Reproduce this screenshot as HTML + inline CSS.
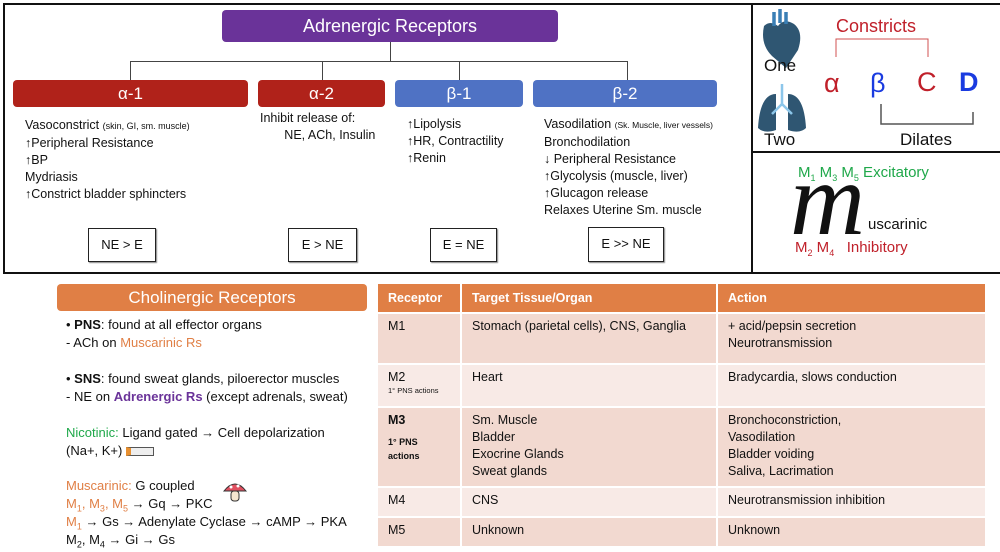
<!DOCTYPE html>
<html><head><meta charset="utf-8"><style>
body{margin:0;width:1000px;height:552px;background:#fff;position:relative;font-family:"Liberation Sans",sans-serif;overflow:hidden;color:#111}
.a{position:absolute}
.box{position:absolute;border:2px solid #111;box-sizing:border-box}
.hd{position:absolute;color:#fff;text-align:center;border-radius:4px}
.t{position:absolute;font-size:12.5px;line-height:17px;white-space:nowrap}
.ln{position:absolute;background:#444}
.rb{position:absolute;border:1.5px solid #222;box-shadow:1px 1px 1px #888;text-align:center;font-size:13px;box-sizing:border-box}
.c{position:absolute;font-size:13px;line-height:18px;white-space:nowrap}
table{position:absolute;left:376px;top:282px;width:611px;border-collapse:separate;border-spacing:2px;font-size:12.5px}
td{vertical-align:top;padding:4px 10px;line-height:17px}
th{background:#E07F45;color:#fff;text-align:left;padding:0 10px}
tr.o td{background:#F2D9D0}tr.e td{background:#F8EAE6}
sub{font-size:9px;line-height:0}
</style></head><body>
<div class="box" style="left:3px;top:3px;width:750px;height:271px"></div>
<div class="box" style="left:751px;top:3px;width:252px;height:150px"></div>
<div class="box" style="left:751px;top:151px;width:252px;height:123px"></div>

<div class="hd" style="left:222px;top:10px;width:336px;height:32px;background:#6A3399;font-size:18px;line-height:32px">Adrenergic Receptors</div>
<div class="ln" style="left:390px;top:42px;width:1px;height:19px"></div>
<div class="ln" style="left:130px;top:61px;width:498px;height:1px"></div>
<div class="ln" style="left:130px;top:61px;width:1px;height:19px"></div>
<div class="ln" style="left:322px;top:61px;width:1px;height:19px"></div>
<div class="ln" style="left:459px;top:61px;width:1px;height:19px"></div>
<div class="ln" style="left:627px;top:61px;width:1px;height:19px"></div>

<div class="hd" style="left:13px;top:80px;width:235px;height:27px;background:#B0221A;font-size:17px;line-height:27px">α-1</div>
<div class="hd" style="left:258px;top:80px;width:127px;height:27px;background:#B0221A;font-size:17px;line-height:27px">α-2</div>
<div class="hd" style="left:395px;top:80px;width:128px;height:27px;background:#4F72C4;font-size:17px;line-height:27px">β-1</div>
<div class="hd" style="left:533px;top:80px;width:184px;height:27px;background:#4F72C4;font-size:17px;line-height:27px">β-2</div>

<div class="t" style="left:25px;top:117px">Vasoconstrict <span style="font-size:9px">(skin, GI, sm. muscle)</span><br>↑Peripheral Resistance<br>↑BP<br>Mydriasis<br>↑Constrict bladder sphincters</div>
<div class="t" style="left:260px;top:110px">Inhibit release of:<br>&nbsp;&nbsp;&nbsp;&nbsp;&nbsp;&nbsp;&nbsp;NE, ACh, Insulin</div>
<div class="t" style="left:407px;top:116px">↑Lipolysis<br>↑HR, Contractility<br>↑Renin</div>
<div class="t" style="left:544px;top:116px">Vasodilation <span style="font-size:8.5px">(Sk. Muscle, liver vessels)</span><br>Bronchodilation<br>↓ Peripheral Resistance<br>↑Glycolysis (muscle, liver)<br>↑Glucagon release<br>Relaxes Uterine Sm. muscle</div>

<div class="rb" style="left:88px;top:228px;width:68px;height:34px;line-height:31px">NE &gt; E</div>
<div class="rb" style="left:288px;top:228px;width:69px;height:34px;line-height:31px">E &gt; NE</div>
<div class="rb" style="left:430px;top:228px;width:67px;height:34px;line-height:31px">E = NE</div>
<div class="rb" style="left:588px;top:227px;width:76px;height:35px;line-height:32px">E &gt;&gt; NE</div>

<svg class="a" style="left:752px;top:4px" width="248" height="148">
<path d="M12 22 q-4 18 8 30 l14 12 l12-18 q6-18-4-26 q-10-6-16 2 q-8-6-14 0z" fill="#2F5672"/>
<path d="M22 8 v14 M28 5 v14 M34 8 v12" stroke="#3A7FB5" stroke-width="3.5"/>
<path d="M24 90 q-16 0-18 34 q6 6 18 2z M36 90 q16 0 18 34 q-6 6-18 2z" fill="#2F5672"/>
<path d="M30 80 v22 M30 100 l-10 10 M30 100 l10 10" stroke="#8CC6EA" stroke-width="2.5" fill="none"/>
<path d="M84 53 V35 H176 V53" stroke="#D05050" fill="none"/>
<path d="M129 100 V120 H221 V108" stroke="#555" fill="none" stroke-width="1.5"/>
</svg>
<div class="a" style="left:764px;top:56px;font-size:17px">One</div>
<div class="a" style="left:764px;top:130px;font-size:17px">Two</div>
<div class="a" style="left:836px;top:16px;font-size:18px;color:#C0202A">Constricts</div>
<div class="a" style="left:824px;top:68px;font-size:27px;color:#C0202A">α</div>
<div class="a" style="left:870px;top:68px;font-size:27px;color:#1A3BE0">β</div>
<div class="a" style="left:917px;top:67px;font-size:27px;color:#C0202A">C</div>
<div class="a" style="left:959px;top:67px;font-size:27px;color:#1A3BE0;font-weight:bold">D</div>
<div class="a" style="left:900px;top:130px;font-size:17px">Dilates</div>

<div class="a" style="left:798px;top:164px;font-size:15px;color:#1FA84A">M<sub>1</sub> M<sub>3</sub> M<sub>5</sub> Excitatory</div>
<div class="a" style="left:790px;top:150px;font-size:104px;font-family:'Liberation Serif',serif;font-style:italic;line-height:100px">m</div>
<div class="a" style="left:868px;top:216px;font-size:15px">uscarinic</div>
<div class="a" style="left:795px;top:239px;font-size:15px;color:#C0202A">M<sub>2</sub> M<sub>4</sub> &nbsp;&nbsp;Inhibitory</div>

<div class="hd" style="left:57px;top:284px;width:310px;height:27px;background:#E07F45;font-size:17px;line-height:27px">Cholinergic Receptors</div>
<div class="c" style="left:66px;top:316px">• <b>PNS</b>: found at all effector organs<br>- ACh on <span style="color:#E07F45">Muscarinic Rs</span></div>
<div class="c" style="left:66px;top:370px">• <b>SNS</b>: found sweat glands, piloerector muscles<br>- NE on <b style="color:#6A3399">Adrenergic Rs</b> (except adrenals, sweat)</div>
<div class="c" style="left:66px;top:424px"><span style="color:#1FA84A">Nicotinic:</span> Ligand gated → Cell depolarization<br>(Na+, K+) <span style="display:inline-block;width:22px;height:7px;background:#eee;border:1px solid #555;border-left:5px solid #E89030;vertical-align:middle"></span></div>
<div class="c" style="left:66px;top:477px"><span style="color:#E07F45">Muscarinic:</span> G coupled<br><span style="color:#E07F45">M<sub>1</sub>, M<sub>3</sub>, M<sub>5</sub></span> → Gq → PKC<br><span style="color:#E07F45">M<sub>1</sub></span> → Gs → Adenylate Cyclase → cAMP → PKA<br>M<sub>2</sub>, M<sub>4</sub> → Gi → Gs</div>
<svg class="a" style="left:222px;top:479px" width="26" height="26"><path d="M2 12 q11-14 22 0z" fill="#E05060" stroke="#333"/><rect x="9" y="12" width="8" height="10" rx="3" fill="#F5E6D0" stroke="#333"/><circle cx="9" cy="8" r="1.5" fill="#fff"/><circle cx="16" cy="7" r="1.5" fill="#fff"/></svg>

<table>
<tr style="height:28px"><th style="width:62px">Receptor</th><th style="width:234px">Target Tissue/Organ</th><th>Action</th></tr>
<tr class="o" style="height:49px"><td>M1</td><td>Stomach (parietal cells), CNS, Ganglia</td><td>+ acid/pepsin secretion<br>Neurotransmission</td></tr>
<tr class="e" style="height:41px"><td>M2<span style="font-size:7.5px;line-height:9px;display:block">1° PNS actions</span></td><td>Heart</td><td>Bradycardia, slows conduction</td></tr>
<tr class="o" style="height:78px"><td><b>M3</b><span style="font-size:9px;font-weight:bold;line-height:14px;display:block;margin-top:6px">1° PNS<br>actions</span></td><td>Sm. Muscle<br>Bladder<br>Exocrine Glands<br>Sweat glands</td><td>Bronchoconstriction,<br>Vasodilation<br>Bladder voiding<br>Saliva, Lacrimation</td></tr>
<tr class="e" style="height:28px"><td>M4</td><td>CNS</td><td>Neurotransmission inhibition</td></tr>
<tr class="o" style="height:28px"><td>M5</td><td>Unknown</td><td>Unknown</td></tr>
</table>
</body></html>
